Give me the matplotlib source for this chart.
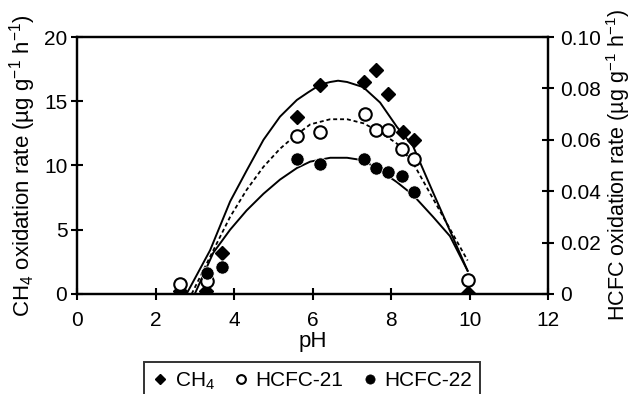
import numpy as np
import matplotlib
matplotlib.use('Agg')
import matplotlib.pyplot as plt

plt.rcParams['font.family'] = ['Liberation Sans', 'DejaVu Sans']
plt.rcParams['mathtext.fontset'] = 'custom'
plt.rcParams['mathtext.rm'] = 'Liberation Sans'
plt.rcParams['mathtext.it'] = 'Liberation Sans:italic'

# measured points (CH4 on left axis, HCFC on right axis)
ph_ch4 = [2.62, 3.29, 3.69, 5.6, 6.19, 7.31, 7.62, 7.93, 8.3, 8.59, 9.97]
ch4 = [0.2, 0.2, 3.2, 13.8, 16.3, 16.5, 17.4, 15.6, 12.6, 12.0, 0.05]

ph_21 = [2.62, 3.3, 5.6, 6.19, 7.34, 7.62, 7.93, 8.28, 8.59, 9.97]
hcfc21 = [0.004, 0.005, 0.0615, 0.063, 0.0699, 0.064, 0.064, 0.0563, 0.0527, 0.0055]

ph_22 = [3.3, 3.69, 5.6, 6.19, 7.31, 7.62, 7.93, 8.28, 8.59]
hcfc22 = [0.008, 0.0103, 0.0525, 0.0505, 0.0527, 0.0492, 0.0475, 0.0459, 0.0395]

# fitted curves
fit_ch4_ph = [2.79, 3.39, 3.9, 4.32, 4.75, 5.17, 5.6, 5.89, 6.2, 6.45, 6.65, 6.88, 7.29, 7.72, 8.15, 8.56, 9.07, 9.95]
fit_ch4 = [0, 3.4, 7.2, 9.6, 12.0, 13.8, 15.1, 15.7, 16.3, 16.5, 16.6, 16.5, 16.1, 14.9, 13.0, 11.5, 7.9, 1.8]

fit_21_ph = [2.92, 3.39, 3.9, 4.32, 4.75, 5.17, 5.51, 5.94, 6.45, 6.88, 7.3, 7.72, 8.15, 8.56, 9.95]
fit_21 = [0, 0.0145, 0.030, 0.0405, 0.0495, 0.0565, 0.061, 0.066, 0.068, 0.068, 0.0664, 0.063, 0.0585, 0.051, 0.013]

fit_22_ph = [3.0, 3.47, 3.9, 4.32, 4.75, 5.17, 5.6, 5.94, 6.45, 6.88, 7.3, 7.72, 8.15, 8.56, 9.07, 9.5, 9.95]
fit_22 = [0, 0.016, 0.025, 0.0325, 0.039, 0.0445, 0.049, 0.0515, 0.053, 0.053, 0.052, 0.048, 0.0435, 0.0385, 0.030, 0.0225, 0.009]

fig = plt.figure(figsize=(6.34, 3.94), dpi=100)
ax = fig.add_axes([0.1215, 0.254, 0.743, 0.652])
ax2 = ax.twinx()

ax.plot(fit_ch4_ph, fit_ch4, color='black', lw=1.4, zorder=2)
ax2.plot(fit_21_ph, fit_21, color='black', lw=1.3, linestyle=(0, (2.2, 1.6)), zorder=2)
ax2.plot(fit_22_ph, fit_22, color='black', lw=1.4, zorder=2)

h1, = ax.plot(ph_ch4, ch4, 'D', color='black', ms=7.4,
              linestyle='none', label='CH$_4$', zorder=3)
h2, = ax2.plot(ph_21, hcfc21, 'o', mfc='white', mec='black', ms=9, mew=1.5,
               linestyle='none', label='HCFC-21', zorder=3)
h3, = ax2.plot(ph_22, hcfc22, 'o', color='black', ms=9.5, mec='white', mew=0.5,
               linestyle='none', label='HCFC-22', zorder=3)

ax.set_xlim(0, 12)
ax.set_ylim(0, 20)
ax2.set_ylim(0, 0.10)
ax.set_xticks([0, 2, 4, 6, 8, 10, 12])
ax.set_yticks([0, 5, 10, 15, 20])
ax2.set_yticks([0, 0.02, 0.04, 0.06, 0.08, 0.10])
ax2.set_yticklabels(['0', '0.02', '0.04', '0.06', '0.08', '0.10'])

for a in (ax, ax2):
    for s in a.spines.values():
        s.set_linewidth(1.6)
    a.tick_params(direction='inout', length=8, width=1.5, labelsize=15)
ax.tick_params(axis='x', pad=8)
ax.tick_params(axis='y', pad=3)
ax2.tick_params(axis='y', pad=5)

ax.set_xlabel('pH', fontsize=16, labelpad=1)
ax.set_ylabel('CH$_4$ oxidation rate (µg g$^{-1}$ h$^{-1}$)', fontsize=16, labelpad=4)
ax2.set_ylabel('HCFC oxidation rate (µg g$^{-1}$ h$^{-1}$)', fontsize=15.5, labelpad=2)

leg = fig.legend([h1, h2, h3], ['CH$_4$', 'HCFC-21', 'HCFC-22'],
                 loc='upper center', bbox_to_anchor=(0.492, 0.081), ncol=3,
                 fontsize=15, frameon=True, fancybox=False, edgecolor='black',
                 markerscale=0.7, handlelength=0.8, handletextpad=0.3,
                 columnspacing=0.85, borderaxespad=0, borderpad=0.4)
leg.get_frame().set_linewidth(1.4)
for h in leg.legend_handles:
    h.set_markeredgecolor('black')

fig.savefig('out.png', dpi=100)
